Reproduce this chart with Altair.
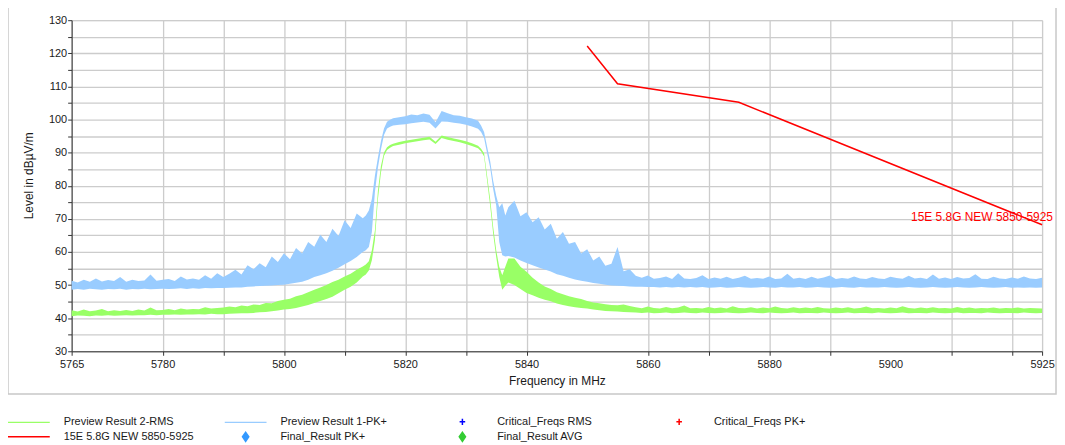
import altair as alt
import pandas as pd

FONT = "Liberation Sans"

# ---- frequency grid of the read-off samples (MHz) ----
FREQ_A = list(range(5765, 5814))
FREQ_B = [5813.5, 5814, 5814.5, 5815, 5815.5, 5816, 5816.5, 5817, 5817.5, 5818]
FREQ_C = list(range(5819, 5833))
FREQ_D = [5832.5, 5833, 5833.5, 5834, 5834.5, 5835, 5835.5, 5836, 5836.5, 5837]
FREQ_E = list(range(5838, 5926))
FREQ = FREQ_A + FREQ_B + FREQ_C + FREQ_D + FREQ_E

# ---- Preview Result 1-PK+ : upper / lower envelope of the trace (dBuV/m) ----
PK_HI = [
    51.3, 50.8, 51.6, 51.0, 52.0, 51.1, 51.5, 51.2, 52.4, 51.0,
    51.6, 51.2, 51.4, 53.2, 51.3, 51.6, 51.8, 51.2, 52.6, 51.7,
    52.0, 51.6, 53.0, 51.9, 53.6, 52.4, 53.4, 54.6, 53.2, 56.0,
    54.8, 56.6, 55.4, 58.6, 57.0, 59.6, 57.8, 61.2, 59.5, 63.0,
    61.6, 65.2, 63.0, 67.0, 64.8, 69.6, 67.2, 71.6, 70.2,
    71.0, 72.5, 76.0, 83.0, 88.5, 93.5, 97.3, 99.3, 99.9, 100.4,
    100.7, 101.0, 101.5, 101.3, 101.8, 101.4, 99.2, 102.6, 101.9, 101.3, 101.1, 100.7, 100.3, 99.6,
    98.2, 96.2, 91.8, 87.5, 81.5, 77.0, 73.5, 74.7, 71.0, 73.5,
    75.5, 70.8, 72.0, 69.0, 70.5, 66.8, 68.5, 64.0, 66.0, 62.5,
    63.0, 59.5, 60.8, 57.4, 58.6, 55.8, 56.4, 61.5, 54.2, 54.8,
    52.8, 52.2, 52.9, 51.9, 52.1, 52.6, 51.8, 53.6, 52.0, 51.8,
    52.1, 53.0, 51.8, 52.3, 51.9, 52.5, 51.8, 52.2, 52.8, 51.9,
    52.1, 51.9, 52.6, 51.8, 52.0, 53.4, 51.9, 52.2, 51.8, 52.5,
    51.9, 52.3, 52.9, 51.8, 52.1, 51.9, 52.6, 52.0, 51.8, 52.4,
    52.0, 51.8, 52.5, 52.1, 51.9, 52.8, 52.0, 52.2, 51.8, 53.2,
    51.9, 52.3, 51.8, 52.4, 52.0, 52.1, 53.3, 51.9, 51.8, 52.5,
    52.0, 51.8, 52.3, 51.9, 52.6, 52.0, 51.8, 52.2,
]
PK_LO = [
    48.6, 48.8, 48.6, 48.9, 48.7, 48.6, 48.8, 48.7, 48.9, 48.6,
    48.8, 48.7, 48.9, 48.7, 48.8, 48.9, 48.8, 48.9, 49.0, 48.8,
    49.0, 48.9, 49.1, 49.0, 49.1, 49.1, 49.2, 49.3, 49.3, 49.5,
    49.6, 49.7, 49.8, 49.9, 50.0, 50.1, 50.4, 50.7, 51.0, 51.6,
    52.4, 53.0, 53.6, 54.3, 55.2, 56.3, 57.3, 58.5, 60.0,
    60.5, 61.5, 66.0, 78.0, 85.5, 91.0, 95.3, 97.3, 97.8, 98.2,
    98.4, 98.6, 98.9, 99.1, 99.3, 99.0, 97.3, 99.4, 99.3, 99.0, 98.8, 98.4, 97.9, 97.2,
    96.2, 94.4, 89.8, 85.5, 79.0, 74.0, 63.0, 59.0, 58.6, 58.8,
    58.3, 57.4, 56.7, 56.0, 55.3, 54.7, 54.1, 53.3, 52.8, 52.2,
    51.7, 51.3, 51.0, 50.6, 50.4, 50.1, 49.9, 49.8, 49.7, 49.6,
    49.5, 49.5, 49.4, 49.4, 49.3, 49.4, 49.3, 49.4, 49.3, 49.4,
    49.3, 49.4, 49.2, 49.3, 49.4, 49.2, 49.3, 49.4, 49.3, 49.2,
    49.3, 49.4, 49.3, 49.2, 49.4, 49.3, 49.3, 49.4, 49.2, 49.3,
    49.4, 49.3, 49.2, 49.3, 49.4, 49.3, 49.2, 49.4, 49.3, 49.3,
    49.3, 49.4, 49.3, 49.2, 49.3, 49.4, 49.3, 49.2, 49.3, 49.4,
    49.3, 49.2, 49.3, 49.4, 49.3, 49.2, 49.3, 49.4, 49.3, 49.2,
    49.3, 49.4, 49.2, 49.3, 49.2, 49.3, 49.2, 49.3,
]

# ---- Preview Result 2-RMS : upper / lower envelope of the trace (dBuV/m) ----
AVG_HI = [
    42.4, 42.0, 42.6, 42.1, 42.3, 42.8, 42.1, 42.4, 42.2, 42.5,
    42.2, 42.6, 42.3, 43.2, 42.4, 42.5, 42.8, 42.4, 42.9, 42.6,
    42.8, 42.7, 43.3, 42.9, 43.1, 43.2, 43.5, 43.3, 43.8, 43.6,
    44.1, 44.0, 44.6, 44.5, 45.2, 45.6, 45.9, 46.6, 47.1, 47.8,
    48.6, 49.3, 50.0, 50.9, 51.6, 52.6, 53.4, 54.6, 55.6,
    56.2, 57.2, 60.5, 66.5, 78.5, 86.0, 90.0, 91.6, 92.3, 92.7,
    93.2, 93.6, 93.9, 94.2, 94.5, 94.8, 93.3, 95.2, 94.7, 94.3, 93.9, 93.4, 92.8, 92.1,
    91.2, 89.8, 83.0, 76.0, 67.5, 60.5, 55.5, 53.0, 55.5, 58.0,
    58.0, 55.5, 54.0, 52.2, 50.8, 49.6, 48.8, 47.8, 47.2, 46.6,
    46.2, 45.8, 45.2, 44.7, 44.5, 44.2, 44.0, 43.9, 44.1, 43.7,
    43.3, 43.0, 43.5, 43.1, 42.9, 43.4, 43.0, 43.2, 43.8, 43.0,
    43.1, 42.9, 43.4, 43.0, 43.2, 42.9, 43.6, 43.1, 43.0, 43.3,
    42.9, 43.2, 43.0, 43.5, 43.1, 42.9, 43.3, 43.0, 43.2, 43.0,
    43.4, 43.0, 42.9, 43.2, 43.0, 43.3, 42.9, 43.1, 43.5, 43.0,
    43.1, 42.9, 43.2, 43.0, 43.6, 43.1, 42.9, 43.2, 43.0, 43.3,
    43.0, 43.1, 42.9, 43.4, 43.0, 43.2, 42.9, 43.1, 43.0, 43.2,
    42.9, 43.1, 43.0, 43.2, 42.9, 43.1, 43.0, 42.9,
]
AVG_LO = [
    40.6, 40.8, 40.7, 40.6, 40.8, 40.7, 40.9, 40.7, 40.8, 40.9,
    40.8, 40.9, 40.9, 41.0, 40.9, 41.0, 41.0, 41.1, 41.0, 41.1,
    41.1, 41.2, 41.1, 41.3, 41.2, 41.2, 41.3, 41.4, 41.5, 41.5,
    41.6, 41.8, 41.9, 42.1, 42.3, 42.6, 42.8, 43.1, 43.5, 44.0,
    44.6, 45.2, 45.8, 46.5, 47.5, 48.6, 49.5, 50.8, 52.6,
    53.2, 54.4, 57.5, 63.5, 76.0, 84.0, 89.0, 90.8, 91.5, 92.0,
    92.4, 92.8, 93.1, 93.4, 93.7, 94.0, 92.6, 94.4, 93.9, 93.5, 93.1, 92.6, 92.0, 91.3,
    90.4, 88.8, 81.5, 74.0, 65.5, 58.5, 52.5, 48.6, 49.8, 50.8,
    50.0, 48.8, 47.6, 46.9, 46.2, 45.6, 45.1, 44.4, 44.0, 43.6,
    43.3, 43.1, 42.9, 42.6, 42.4, 42.2, 42.1, 42.0, 41.9, 41.8,
    41.7, 41.6, 41.7, 41.5, 41.6, 41.7, 41.5, 41.6, 41.7, 41.6,
    41.5, 41.7, 41.6, 41.5, 41.6, 41.7, 41.6, 41.5, 41.6, 41.7,
    41.6, 41.5, 41.7, 41.6, 41.5, 41.6, 41.7, 41.5, 41.6, 41.6,
    41.5, 41.7, 41.6, 41.5, 41.6, 41.7, 41.5, 41.6, 41.6, 41.5,
    41.7, 41.6, 41.5, 41.6, 41.7, 41.5, 41.6, 41.6, 41.5, 41.7,
    41.6, 41.5, 41.6, 41.7, 41.5, 41.6, 41.6, 41.5, 41.7, 41.6,
    41.5, 41.6, 41.6, 41.5, 41.7, 41.6, 41.5, 41.6,
]

# ---- limit line "15E 5.8G NEW 5850-5925" ----
LIMIT_FREQ = [5850, 5855, 5875, 5925]
LIMIT_LEVEL = [122.2, 110.8, 105.2, 68.2]
LIMIT_NAME = "15E 5.8G NEW 5850-5925"
LIMIT_LABEL_FREQ = [5903.4]
LIMIT_LABEL_LEVEL = [70.5]

# ---- legend ----
SERIES = ["Preview Result 2-RMS", "Preview Result 1-PK+", "Critical_Freqs RMS", "Critical_Freqs PK+",
          "15E 5.8G NEW 5850-5925", "Final_Result PK+", "Final_Result AVG"]
SERIES_COLORS = ["#99ff66", "#99ccff", "#0000ff", "#ff0000", "#ff0000", "#3399ff", "#33cc33"]
LINE_SYM = "M-3,0H3"
CROSS_SYM = "M-0.4,0H0.4M0,-0.45V0.45"
DIAMOND_SYM = "M-0.45,0L0,-0.65L0.45,0L0,0.65Z"
SERIES_SYMBOLS = [LINE_SYM, LINE_SYM, CROSS_SYM, CROSS_SYM, LINE_SYM, DIAMOND_SYM, DIAMOND_SYM]

# ---- axes ----
X_TICKS = [5765, 5780, 5790, 5800, 5810, 5820, 5830, 5840, 5860, 5870, 5880, 5890, 5900, 5910, 5920, 5925]
X_LABELS = [5765, 5780, 5800, 5820, 5840, 5860, 5880, 5900, 5925]
Y_TICKS = [30, 35, 40, 45, 50, 55, 60, 65, 70, 75, 80, 85, 90, 95, 100, 105, 110, 115, 120, 125, 130]

assert len(FREQ) == len(PK_HI) == len(PK_LO) == len(AVG_HI) == len(AVG_LO)

trace = pd.DataFrame({"freq": FREQ, "pk_hi": PK_HI, "pk_lo": PK_LO, "avg_hi": AVG_HI, "avg_lo": AVG_LO})
limit = pd.DataFrame({"freq": LIMIT_FREQ, "level": LIMIT_LEVEL})
limit_label = pd.DataFrame({"freq": LIMIT_LABEL_FREQ, "level": LIMIT_LABEL_LEVEL, "name": [LIMIT_NAME]})
legend_df = pd.DataFrame({"series": SERIES})

common_axis = dict(
    labelFont=FONT, labelFontSize=11, labelColor="#1a1a1a",
    titleFont=FONT, titleFontSize=12, titleFontWeight="normal", titleColor="#1a1a1a",
    domainColor="#333333", tickColor="#333333", tickSize=4,
    gridColor="#cccccc", gridWidth=1.3, labelOverlap=False,
)
x_label_list = ",".join(str(v) for v in X_LABELS)
X_AXIS = alt.Axis(
    values=X_TICKS,
    labelExpr=f"indexof([{x_label_list}], datum.value) >= 0 ? format(datum.value, 'd') : ''",
    labelFlush=False, labelPadding=3, titlePadding=6,
    gridOpacity={"condition": {"test": "datum.value === 5900", "value": 0}, "value": 1},
    tickOpacity={"condition": {"test": "datum.value === 5900", "value": 0}, "value": 1},
    **common_axis,
)
Y_AXIS = alt.Axis(
    values=Y_TICKS,
    labelExpr="datum.value % 10 === 0 ? format(datum.value, 'd') : ''",
    labelPadding=1, titleX=-36, titleY=156,
    **common_axis,
)
X_SCALE = alt.Scale(domain=[5765, 5925], nice=False, zero=False)
Y_SCALE = alt.Scale(domain=[30, 130], nice=False, zero=False)
X_TITLE = "Frequency in MHz"
Y_TITLE = "Level in dBµV/m"


def xenc(field):
    return alt.X(f"{field}:Q", scale=X_SCALE, axis=X_AXIS, title=X_TITLE)


def yenc(field):
    return alt.Y(f"{field}:Q", scale=Y_SCALE, axis=Y_AXIS, title=Y_TITLE)


frame = alt.Chart(alt.Data(values=[{}])).mark_rect(
    fillOpacity=0, stroke="#c8c8c8", strokeWidth=1.5
).encode(
    x=alt.value(-64), x2=alt.value(990), y=alt.value(-15), y2=alt.value(376)
)

pk_area = alt.Chart(trace).mark_area(color="#99ccff", opacity=1).encode(
    x=xenc("freq"), y=yenc("pk_lo"), y2="pk_hi:Q"
)
avg_area = alt.Chart(trace).mark_area(color="#99ff66", opacity=1).encode(
    x=xenc("freq"), y=yenc("avg_lo"), y2="avg_hi:Q"
)
limit_line = alt.Chart(limit).mark_line(color="#ff0000", strokeWidth=1.5).encode(
    x=xenc("freq"), y=yenc("level")
)
limit_text = alt.Chart(limit_label).mark_text(
    align="left", baseline="middle", color="#ff0000", font=FONT, fontSize=12
).encode(x=xenc("freq"), y=yenc("level"), text="name:N")

LEG = alt.Legend(
    orient="none", legendX=-51, legendY=395, direction="horizontal", columns=4,
    symbolSize=196, symbolStrokeWidth=1.5,
    labelFont=FONT, labelFontSize=11, labelColor="#1a1a1a", labelOffset=27, rowPadding=0,
    columnPadding=28, gridAlign="all", padding=0, symbolOpacity=1, labelLimit=300,
)
legend_layer = alt.Chart(legend_df).mark_point(opacity=0, strokeWidth=1.5).encode(
    x=alt.value(0), y=alt.value(0),
    fill=alt.Fill("series:N", scale=alt.Scale(domain=SERIES, range=SERIES_COLORS), legend=LEG, title=None),
    stroke=alt.Stroke("series:N", scale=alt.Scale(domain=SERIES, range=SERIES_COLORS), legend=LEG, title=None),
    shape=alt.Shape("series:N", scale=alt.Scale(domain=SERIES, range=SERIES_SYMBOLS), legend=LEG, title=None),
)

chart = alt.layer(frame, pk_area, avg_area, limit_line, limit_text, legend_layer).properties(
    width=976, height=333,
    autosize=alt.AutoSizeParams(type="none"),
    padding={"left": 64, "top": 11, "right": 15, "bottom": 92},
).configure_view(stroke="transparent").configure(background="white")

chart.save("out.html", embed_options={"renderer": "svg", "actions": False})
